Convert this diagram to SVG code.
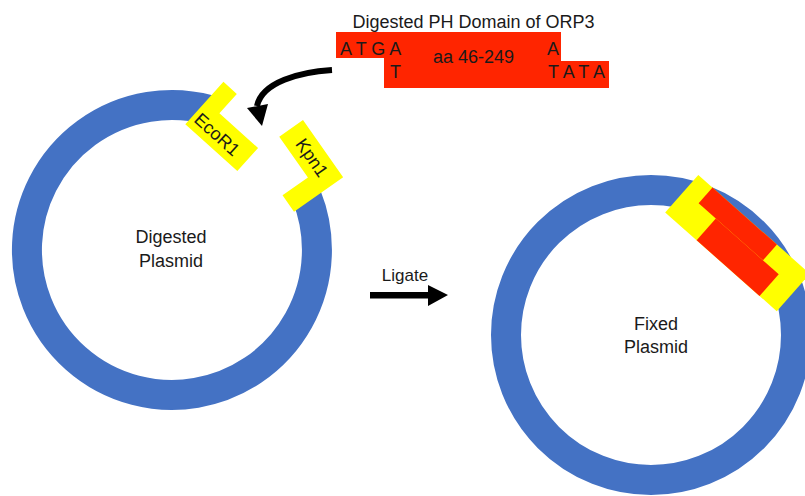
<svg xmlns="http://www.w3.org/2000/svg" width="805" height="496" viewBox="0 0 805 496">
  <style>
    .t { font-family: "Liberation Sans", Arial, sans-serif; font-size: 18px; fill: #1a1a1a; }
    .ring { fill: none; stroke: #4472C4; stroke-width: 30; }
    .yel { fill: #FFFF00; }
    .red { fill: #FF2500; }
    .blk { fill: #000000; }
  </style>
  <rect width="805" height="496" fill="#ffffff"/>

  <g id="digested-plasmid">
    <path class="ring" d="M306.4,195.7 A145,145 0 1 1 209.5,109.9"/>
    <text class="t" x="171" y="243" text-anchor="middle">Digested</text>
    <text class="t" x="171" y="267" text-anchor="middle">Plasmid</text>
  </g>

  <g id="ecor1" transform="translate(185.3,124.2) rotate(42)">
    <polygon class="yel" points="0,0 70,0 70,-31 18,-31 18,-57 0,-57"/>
    <text class="t" x="30.5" y="-7.5" text-anchor="middle">EcoR1</text>
  </g>

  <g id="kpn1" transform="translate(303,120) rotate(55)">
    <polygon class="yel" points="0,0 70,0 70,60 50,60 50,29 0,29"/>
    <text class="t" x="36" y="20.5" text-anchor="middle">Kpn1</text>
  </g>

  <g id="insert">
    <text class="t" x="473.5" y="28" text-anchor="middle">Digested PH Domain of ORP3</text>
    <polygon class="red" points="336,32 561,32 561,61 609,61 609,88 384,88 384,58 336,58"/>
    <text class="t" x="340" y="55">A T G A</text>
    <text class="t" x="390" y="78">T</text>
    <text class="t" x="473.5" y="63" text-anchor="middle">aa 46-249</text>
    <text class="t" x="547" y="55">A</text>
    <text class="t" x="548" y="78">T A T A</text>
  </g>

  <g id="fixed-plasmid">
    <circle class="ring" cx="651" cy="335" r="145"/>
    <g transform="translate(698.3,175) rotate(41.5)">
      <rect class="yel" x="0" y="0" width="149" height="50"/>
      <rect class="red" x="19" y="0" width="86" height="21"/>
      <rect class="red" x="42" y="21" width="84" height="29"/>
    </g>
    <text class="t" x="656" y="330" text-anchor="middle">Fixed</text>
    <text class="t" x="656" y="353" text-anchor="middle">Plasmid</text>
  </g>

  <g id="connectors">
    <path d="M332,70 C300,72 262,82 257,106" fill="none" stroke="#000" stroke-width="6"/>
    <polygon class="blk" points="247,108 268,104 262,126"/>
    <polygon class="blk" points="370,292 428,292 428,285 448,295 428,306 428,298.5 370,298.5"/>
    <text class="t" x="405" y="281" text-anchor="middle" style="font-size:17px">Ligate</text>
  </g>
</svg>
